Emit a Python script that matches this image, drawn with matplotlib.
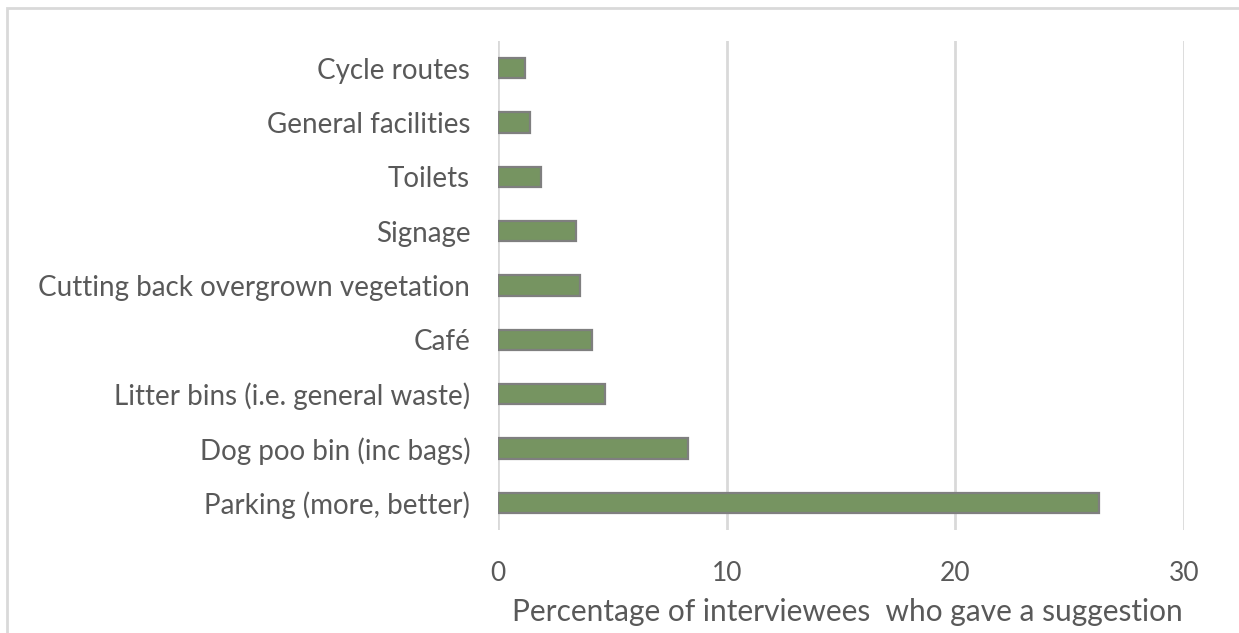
import matplotlib
matplotlib.use("Agg")
import matplotlib.pyplot as plt
from matplotlib.patches import Rectangle

# suggestions, bottom to top as drawn
categories = [
    "Parking (more, better)",
    "Dog poo bin (inc bags)",
    "Litter bins (i.e. general waste)",
    "Café",
    "Cutting back overgrown vegetation",
    "Signage",
    "Toilets",
    "General facilities",
    "Cycle routes",
]
percent = [26.3, 8.3, 4.7, 4.1, 3.6, 3.4, 1.9, 1.4, 1.2]
xticks = [0, 10, 20, 30]

TEXT = "#595959"
plt.rcParams["font.family"] = ["Lato", "DejaVu Sans"]

W, H = 1239, 633
fig = plt.figure(figsize=(W / 100, H / 100), dpi=100)
ax = fig.add_axes([498 / W, 1 - 530 / H, 686 / W, 489 / H])

ypos = range(len(categories))
ax.barh(ypos, percent, height=0.37, color="#769461",
        edgecolor="#7f7f7f", linewidth=1.6, zorder=3)

ax.set_xlim(0, 30)
ax.set_ylim(-0.5, len(categories) - 0.5)
ax.set_xticks(xticks)
ax.set_xticklabels([str(t) for t in xticks])
ax.set_yticks(list(ypos))
ax.set_yticklabels(categories)

ax.grid(axis="x", color="#d9d9d9", linewidth=2, zorder=0)
for s in ax.spines.values():
    s.set_visible(False)
ax.tick_params(axis="both", length=0, colors=TEXT)
ax.tick_params(axis="x", labelsize=19, pad=22)
ax.tick_params(axis="y", labelsize=20, pad=20)

ax.set_xlabel("Percentage of interviewees  who gave a suggestion",
              fontsize=21.5, color=TEXT, labelpad=9, x=0.51)

# light chart-area frame
fig.patches.append(Rectangle((7 / W, -0.1), 1.2, 1.1 - 8 / H,
                             transform=fig.transFigure, fill=False,
                             edgecolor="#d9d9d9", linewidth=2))

fig.savefig("out.png", dpi=100)
